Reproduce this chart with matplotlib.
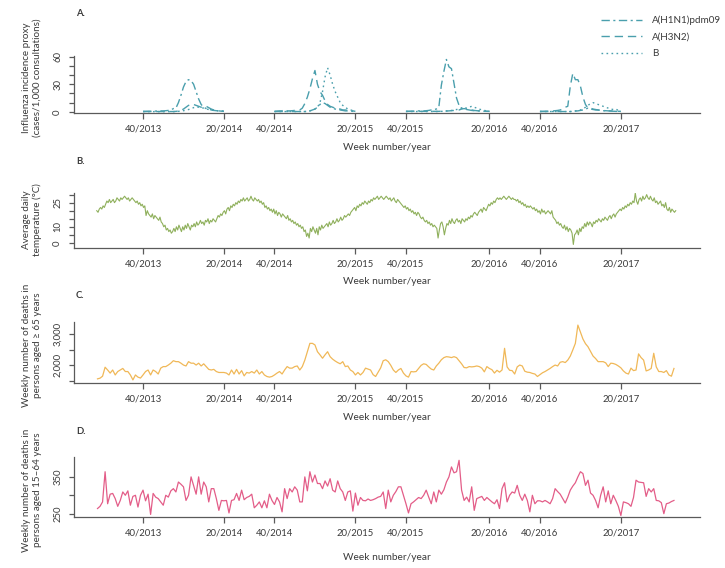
import numpy as np
import matplotlib
matplotlib.use('Agg')
import matplotlib.pyplot as plt
from matplotlib.lines import Line2D

plt.rcParams['font.family'] = ['Lato', 'DejaVu Sans']

# ── data ─────────────────────────────────────────────────────────────────────
# week index: weeks since week 1/2013 (0-based); 2015 has 53 ISO weeks
tick_weeks = [39, 71, 91, 123, 143, 176, 196, 228]
tick_labels = ['40/2013', '20/2014', '40/2014', '20/2015',
               '40/2015', '20/2016', '40/2016', '20/2017']

season_starts = [39, 91, 143, 196]  # week 40 of each season

h1n1_1314 = [0.5, 0.5, 0.6, 0.6, 0.7, 0.8, 0.9, 1.0, 1.0, 1.2, 1.5, 2.0, 3.5,
             4, 10, 18, 27, 33, 35, 34, 30, 22, 14, 8, 5, 3.5, 3, 2, 1.5, 1.2, 1.0, 0.8, 0.7]
h3n2_1314 = [0.3] * 13 + [0.5, 0.8, 1.5, 3, 5, 7, 8, 8, 7, 6, 5, 5.5, 6, 4.5, 3, 2, 1.5, 1, 0.7, 0.5]
b_1314 = [0.2] * 13 + [0.3, 0.5, 0.8, 1.2, 1.8, 2.5, 3.5, 4.5, 5.5, 5, 4.5, 4, 3, 2.5, 2, 1.5, 1.2, 1, 0.8, 0.5]

h1n1_1415 = [0.3] * 13 + [0.5, 1, 2, 3, 5, 8, 10, 9, 7, 5, 4, 3, 2.5, 2, 1.5, 1, 1, 0.8, 0.5, 0.3]
h3n2_1415 = [0.5, 0.8, 1.0, 1.0, 3.0, 1.0, 1.0, 1.2, 1.5, 1.5, 2.0, 4.0, 9.0,
             16, 25, 36, 45, 30, 22, 18, 12, 8, 6, 5, 4, 3, 3, 2, 2, 1.5, 1, 1, 0.5]
b_1415 = [0.3] * 13 + [0.5, 1, 2, 3, 5, 10, 22, 38, 48, 40, 30, 22, 16, 10, 7, 5, 3, 2, 1.5, 1]

h1n1_1516 = [0.5, 0.5, 0.6, 0.7, 0.8, 1, 1, 1, 1.2, 1.5, 2, 2.5, 3, 5,
             29, 44, 57, 49, 47, 31, 15, 7, 4, 3, 2.5, 2, 1.5, 1.2, 1, 1, 0.8, 0.6, 0.5, 0.5]
h3n2_1516 = [0.5] * 14 + [0.6, 0.7, 0.8, 1, 1.2, 1.5, 1.8, 2, 3, 3.5, 3, 2.5, 2, 1.5, 1.2, 1, 0.8, 0.7, 0.6, 0.5]
b_1516 = [0.3] * 14 + [0.5, 0.5, 1, 1, 1.5, 2, 2.5, 3, 4, 5, 4, 5, 6, 5, 4, 3, 2, 1.5, 1, 0.5]

h1n1_1617 = [0.3] * 13 + [0.5, 0.8, 1, 1.5, 2, 3, 4, 4, 3, 2.5, 2, 1.5, 1.2, 1, 1, 0.8, 0.6, 0.5, 0.4, 0.3]
h3n2_1617 = [0.5, 0.5, 0.6, 0.7, 0.8, 1, 1.2, 1.5, 2, 3, 5, 6, 28,
             42, 35, 35, 28, 16, 8, 4, 3, 2.5, 2, 2, 1.5, 1.5, 1.2, 1, 1, 0.8, 0.7, 0.6, 0.5]
b_1617 = [0.3] * 13 + [0.5, 1, 1.5, 2, 3, 5, 7, 9, 10, 9, 8, 7, 6, 5, 4, 3, 2.5, 3, 1.5, 1]

# average daily temperature, read every half week starting at week index 20.7
temp_start = 20.7
temperature = [
    20, 19, 21, 22, 21, 23, 22,
    24, 26, 25, 27, 25, 26, 27, 25, 26, 28, 27, 26,
    28, 27, 28, 29, 28, 27, 28, 26, 27, 28,
    27, 26, 25, 26, 24, 25, 23, 24, 22, 23,
    17, 20,
    18, 17, 16, 18, 15, 17, 16, 15, 14, 16,
    13, 12, 10, 11, 8, 9, 7, 8, 6, 7,
    9, 7, 10, 8, 11, 9, 7, 10, 8, 11, 9, 12, 10, 8, 11, 10,
    12, 10, 13, 11, 12, 14, 12, 13, 11, 14, 13, 15, 12, 14, 13, 15, 14, 13,
    15, 17, 16, 18, 17, 19, 20, 18, 21, 22, 20, 23, 22, 24, 23, 25, 24, 26,
    25, 27, 26, 28, 26, 27, 28, 26, 27, 29, 27, 26, 28, 27, 26, 27, 25, 26,
    24, 25, 22, 23, 21, 22, 20, 21, 19, 21, 18, 20, 17, 19, 18, 16, 18, 17,
    16, 15, 17, 14, 15, 13, 14, 12, 13, 11, 12, 10, 11, 9, 10, 7, 8, 4, 6, 3,
    9, 7, 10, 8, 6, 9, 5, 10, 8, 11, 9, 10,
    11, 12, 10, 13, 11, 12, 14, 12, 13, 15, 13, 14, 16, 14, 15, 17, 16, 17, 18, 17,
    19, 20, 21, 22, 20, 23, 22, 24, 23, 25, 24, 26, 25, 24,
    26, 25, 27, 26, 28, 27, 28, 29, 27, 28, 29, 28, 27, 28, 29, 28,
    27, 28, 26, 27, 28, 26, 25, 27, 26, 25, 24, 23,
    22, 23, 21, 22, 20, 21, 19, 20, 18, 19, 17, 19, 18, 16, 15, 16, 14, 13, 14, 12, 13, 11, 12, 10,
    11, 10, 9, 3, 8, 12, 13, 10, 5, 9, 12, 11,
    14, 12, 15, 13, 12, 14, 15, 13, 14, 12, 15, 14, 13, 15, 14, 16, 15, 17, 16, 18,
    19, 18, 17, 19, 20, 21, 19, 22, 21, 20, 22, 24, 23, 25, 24, 26, 25, 27, 28, 27,
    28, 27, 28, 29, 28, 27, 28, 29, 28, 27, 28, 27,
    27, 26, 27, 25, 26, 24, 25, 23, 24, 22, 23, 22, 23, 22,
    21, 22, 20, 21, 19, 20, 18, 21, 19, 20, 18, 19, 20, 19, 18, 20,
    16, 15, 14, 12, 13, 11, 12, 10, 9, 11, 8, 10, 7, 9, 8, 6, -1, 5,
    6, 8, 5, 9, 7, 10, 9, 12, 10, 13, 11, 13, 12, 10, 13, 12,
    14, 13, 15, 14, 13, 15, 14, 16, 15, 14, 16, 17, 15, 17, 18, 16, 18, 19, 20, 21,
    20, 22, 21, 23, 22, 24, 23, 25, 24, 26, 25, 31,
    26, 24, 27, 28, 26, 29, 27, 28, 30, 28, 27, 29,
    27, 26, 28, 25, 26, 24, 25, 26, 23, 24, 22, 25, 21, 20, 22, 19, 21, 20, 19, 20,
]

# weekly deaths, week index 21 .. 249
death_weeks = list(range(21, 250))
deaths_65 = [
    1564, 1586, 1650, 1940, 1850, 1750, 1850, 1690, 1800, 1850, 1900, 1800, 1800, 1690, 1530,
    1690, 1620, 1590, 1690, 1800, 1850, 1690, 1850, 1800, 1720, 1910, 1960, 1960, 2010, 2070,
    2150, 2120, 2120, 2070, 2010, 1980, 2120, 2070, 2070, 2010, 2070, 1980, 2050, 1960, 1870,
    1850, 1870, 1800, 1770, 1770, 1770, 1750, 1690, 1850, 1720, 1870, 1720, 1830, 1660, 1770,
    1750, 1800, 1750, 1850, 1720, 1800, 1690, 1640, 1620, 1640, 1690, 1750, 1800, 1720, 1850,
    1960, 1910, 1910, 1960, 1980, 1850, 1960, 2170, 2440, 2710, 2710, 2660, 2440, 2340, 2230,
    2340, 2440, 2280, 2200, 2140, 2090, 2050, 2120, 1960, 1980, 1850, 1800, 1690, 1770, 1690,
    1770, 1910,
    1880, 1850, 1700, 1640, 1780, 1920, 2150, 2180, 2120, 2000, 1850, 1770, 1850, 1900, 1750,
    1660, 1620, 1800, 1790, 1800, 1900, 2000, 2050, 2030, 1950, 1880, 1850, 1980, 2070, 2180,
    2250, 2280, 2270, 2250, 2280, 2250, 2150, 2050, 1930, 1920, 1960, 1950, 1960, 1980, 1960,
    1910, 1790, 1960, 1900, 1860, 1750, 1840, 1780, 1850, 2550, 1950, 1840, 1830, 1720, 1950,
    2010, 1980, 1810, 1780, 1770, 1740, 1720, 1640, 1700, 1760, 1800, 1850, 1900, 1960, 2010,
    1980, 2100, 2120, 2090, 2170, 2300, 2500, 2710, 3300, 3080, 2850, 2700, 2600, 2450, 2300,
    2220, 2120, 2120, 2120, 2080, 1960, 2070, 2060, 2030, 1980, 1920, 1820, 1750, 1720, 1910,
    1830, 1850, 2370, 2250, 2170, 1820, 1850, 1900, 2390, 1950, 1800, 1800, 1770, 1830, 1690,
    1650, 1900,
]
deaths_15_64 = [
    264, 270, 282, 364, 277, 303, 305, 291, 270, 286, 309, 300, 312, 273, 297,
    300, 268, 300, 314, 285, 303, 248, 305, 295, 291, 282, 273, 300, 295, 312,
    318, 309, 336, 330, 323, 286, 300, 350, 327, 303, 350, 303, 336, 323, 282,
    318, 318, 291, 259, 286, 285, 286, 252, 286, 288, 305, 286, 314, 288, 294,
    297, 303, 266, 273, 282, 266, 285, 266, 303, 286, 275, 294, 282, 255, 318,
    291, 318, 309, 323, 314, 282, 282, 350, 312, 364, 336, 355, 332, 332, 318,
    339, 325, 345, 314, 309, 339, 318, 309, 286, 309, 312, 257, 306, 273, 294,
    286, 285,
    290, 286, 288, 291, 295, 297, 309, 264, 314, 282, 300, 310, 323, 323, 300,
    277, 252, 277, 282, 288, 294, 291, 300, 314, 295, 277, 309, 282, 314, 303,
    315, 336, 350, 377, 361, 364, 395, 314, 286, 295, 282, 323, 259, 291, 294,
    297, 286, 294, 288, 282, 277, 288, 264, 318, 334, 282, 300, 309, 306, 327,
    300, 286, 303, 286, 255, 300, 277, 285, 285, 282, 286, 282, 277, 291, 318,
    310, 303, 291, 279, 295, 314, 325, 334, 350, 364, 359, 327, 341, 306, 300,
    286, 266, 300, 323, 282, 312, 277, 300, 286, 270, 245, 282, 280, 277, 270,
    294, 341, 336, 335, 334, 297, 318, 309, 318, 286, 285, 280, 250, 277, 279,
    283, 286,
]

# ── styling ──────────────────────────────────────────────────────────────────
TEAL = '#4a9fad'
GREEN = '#8fb05c'
ORANGE = '#f0b858'
PINK = '#e35d88'
AXC = '#5a5a5a'
TXT = '#3a3a3a'

DASHDOT = (0, (6, 2.5, 1.5, 2.5))
DASHED = (0, (6, 3.5))
DOTTED = (0, (1.2, 2.4))

W, H = 725, 568
fig = plt.figure(figsize=(7.25, 5.68), dpi=100)


def add_ax(top_px, bottom_px):
    return fig.add_axes([74 / W, 1 - bottom_px / H, 626 / W, (bottom_px - top_px) / H])


def style(ax, ylim, yticks, ylabelled):
    ax.set_xlim(11.7, 259.3)
    ax.set_ylim(*ylim)
    for s in ['top', 'right']:
        ax.spines[s].set_visible(False)
    for s in ['left', 'bottom']:
        ax.spines[s].set_color(AXC)
        ax.spines[s].set_linewidth(0.9)
    ax.set_xticks(tick_weeks)
    ax.set_xticklabels(tick_labels)
    ax.set_yticks(yticks)
    ax.set_yticklabels([f'{v:,}' if v in ylabelled else '' for v in yticks])
    ax.tick_params(axis='x', length=4, width=0.9, color=AXC, labelsize=6.8,
                   labelcolor=TXT, pad=4)
    ax.tick_params(axis='y', length=3.5, width=0.9, color=AXC, labelsize=6.8,
                   labelcolor=TXT, pad=5, labelrotation=90)
    for lab in ax.get_yticklabels():
        lab.set_va('center')


def xlabel(y_px):
    fig.text(387 / W, 1 - y_px / H, 'Week number/year', ha='center', va='center',
             fontsize=7.3, color=TXT)


def ylabel(text, y_px):
    fig.text(32 / W, 1 - y_px / H, text, rotation=90, ha='center', va='center',
             fontsize=7.1, color=TXT, linespacing=1.15)


def panel(letter, y_px):
    fig.text(76 / W, 1 - y_px / H, letter, ha='left', va='center',
             fontsize=6.8, fontweight='bold', color=TXT)


# ── A. influenza ─────────────────────────────────────────────────────────────
axA = add_ax(56, 113)
seasons = [(h1n1_1314, h3n2_1314, b_1314), (h1n1_1415, h3n2_1415, b_1415),
           (h1n1_1516, h3n2_1516, b_1516), (h1n1_1617, h3n2_1617, b_1617)]
for start, (h1, h3, bb) in zip(season_starts, seasons):
    wk = np.arange(start, start + len(h1))
    axA.plot(wk, bb, color=TEAL, lw=1.0, ls=DOTTED)
    axA.plot(wk, h3, color=TEAL, lw=1.0, ls=DASHED)
    axA.plot(wk, h1, color=TEAL, lw=1.0, ls=DASHDOT)
style(axA, (-1.3, 60.8), list(range(0, 61, 10)), [0, 30, 60])
panel('A.', 13)
xlabel(148)
ylabel('Influenza incidence proxy\n(cases/1,000 consultations)', 78)

handles = [Line2D([], [], color=TEAL, lw=1.0, ls=DASHDOT),
           Line2D([], [], color=TEAL, lw=1.0, ls=DASHED),
           Line2D([], [], color=TEAL, lw=1.0, ls=DOTTED)]
fig.legend(handles, ['A(H1N1)pdm09', 'A(H3N2)', 'B'], loc='upper left',
           bbox_to_anchor=(596 / W, 1 - 11 / H), frameon=False, fontsize=7.1,
           handlelength=4.2, handletextpad=1.0, labelspacing=0.75, borderpad=0,
           labelcolor=TXT)

# ── B. temperature ───────────────────────────────────────────────────────────
axB = add_ax(193, 248)
tx = temp_start + 0.5 * np.arange(len(temperature))
axB.plot(tx, temperature, color=GREEN, lw=0.8)
style(axB, (-3.2, 31), list(range(0, 31, 5)), [0, 10, 25])
panel('B.', 161)
xlabel(282)
ylabel('Average daily\ntemperature (°C)', 220)

# ── C. deaths >= 65 ──────────────────────────────────────────────────────────
axC = add_ax(322, 383)
axC.plot(death_weeks, deaths_65, color=ORANGE, lw=0.9)
style(axC, (1430, 3400), [1500, 2000, 2500, 3000], [2000, 3000])
panel('C.', 296)
xlabel(417)
ylabel('Weekly number of deaths in\npersons aged ≥ 65 years', 345)

# ── D. deaths 15-64 ──────────────────────────────────────────────────────────
axD = add_ax(457, 517)
axD.plot(death_weeks, deaths_15_64, color=PINK, lw=0.9)
style(axD, (241, 404), [250, 300, 350], [250, 350])
panel('D.', 431)
xlabel(558)
ylabel('Weekly number of deaths in\npersons aged 15–64 years', 490)

fig.savefig('out.png', dpi=100, facecolor='white')
